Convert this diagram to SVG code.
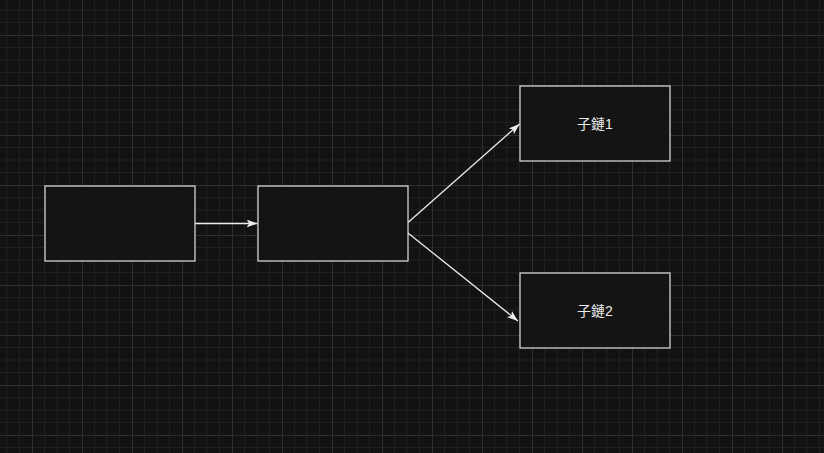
<svg xmlns="http://www.w3.org/2000/svg" width="824" height="453" viewBox="0 0 824 453">
  <defs>
    <pattern id="grid" patternUnits="userSpaceOnUse" x="32" y="35" width="50" height="50">
      <path d="M12.5 0V50M25 0V50M37.5 0V50M0 12.5H50M0 25H50M0 37.5H50" stroke="#1f1f1f" stroke-width="1" fill="none"/>
      <path d="M0.5 0V50M0 0.5H50" stroke="#2f2f2f" stroke-width="1" fill="none"/>
    </pattern>
    <marker id="arrow" markerUnits="userSpaceOnUse" viewBox="0 0 11 8" refX="11" refY="4" markerWidth="11" markerHeight="8" orient="auto">
      <path d="M0,0 L11,4 L0,8 L2.6,4 Z" fill="#ececec"/>
    </marker>
    <style>
      .box rect { fill: #141414; stroke: #d2d2d2; stroke-width: 1.3; }
      .box text { font-family: "Liberation Sans", "Noto Sans CJK TC", sans-serif; font-size: 14px; fill: #ececec; text-anchor: middle; dominant-baseline: central; }
      .edge { stroke: #ececec; stroke-width: 1.3; fill: none; marker-end: url(#arrow); }
    </style>
  </defs>
  <rect width="824" height="453" fill="#121212"/>
  <rect width="824" height="453" fill="url(#grid)"/>

  <g id="connectors">
    <path class="edge" d="M195 223.5 L257.5 223.5"/>
    <path class="edge" d="M408 222.5 L519.5 124"/>
    <path class="edge" d="M408 233 L518 321"/>
  </g>

  <g id="node-a" class="box">
    <rect x="45" y="186" width="150" height="75"/>
  </g>
  <g id="node-b" class="box">
    <rect x="258" y="186" width="150" height="75"/>
  </g>
  <g id="node-c1" class="box">
    <rect x="520" y="86" width="150" height="75"/>
    <text x="595" y="123.5">子鏈1</text>
  </g>
  <g id="node-c2" class="box">
    <rect x="520" y="273" width="150" height="75"/>
    <text x="595" y="310.5">子鏈2</text>
  </g>
</svg>
